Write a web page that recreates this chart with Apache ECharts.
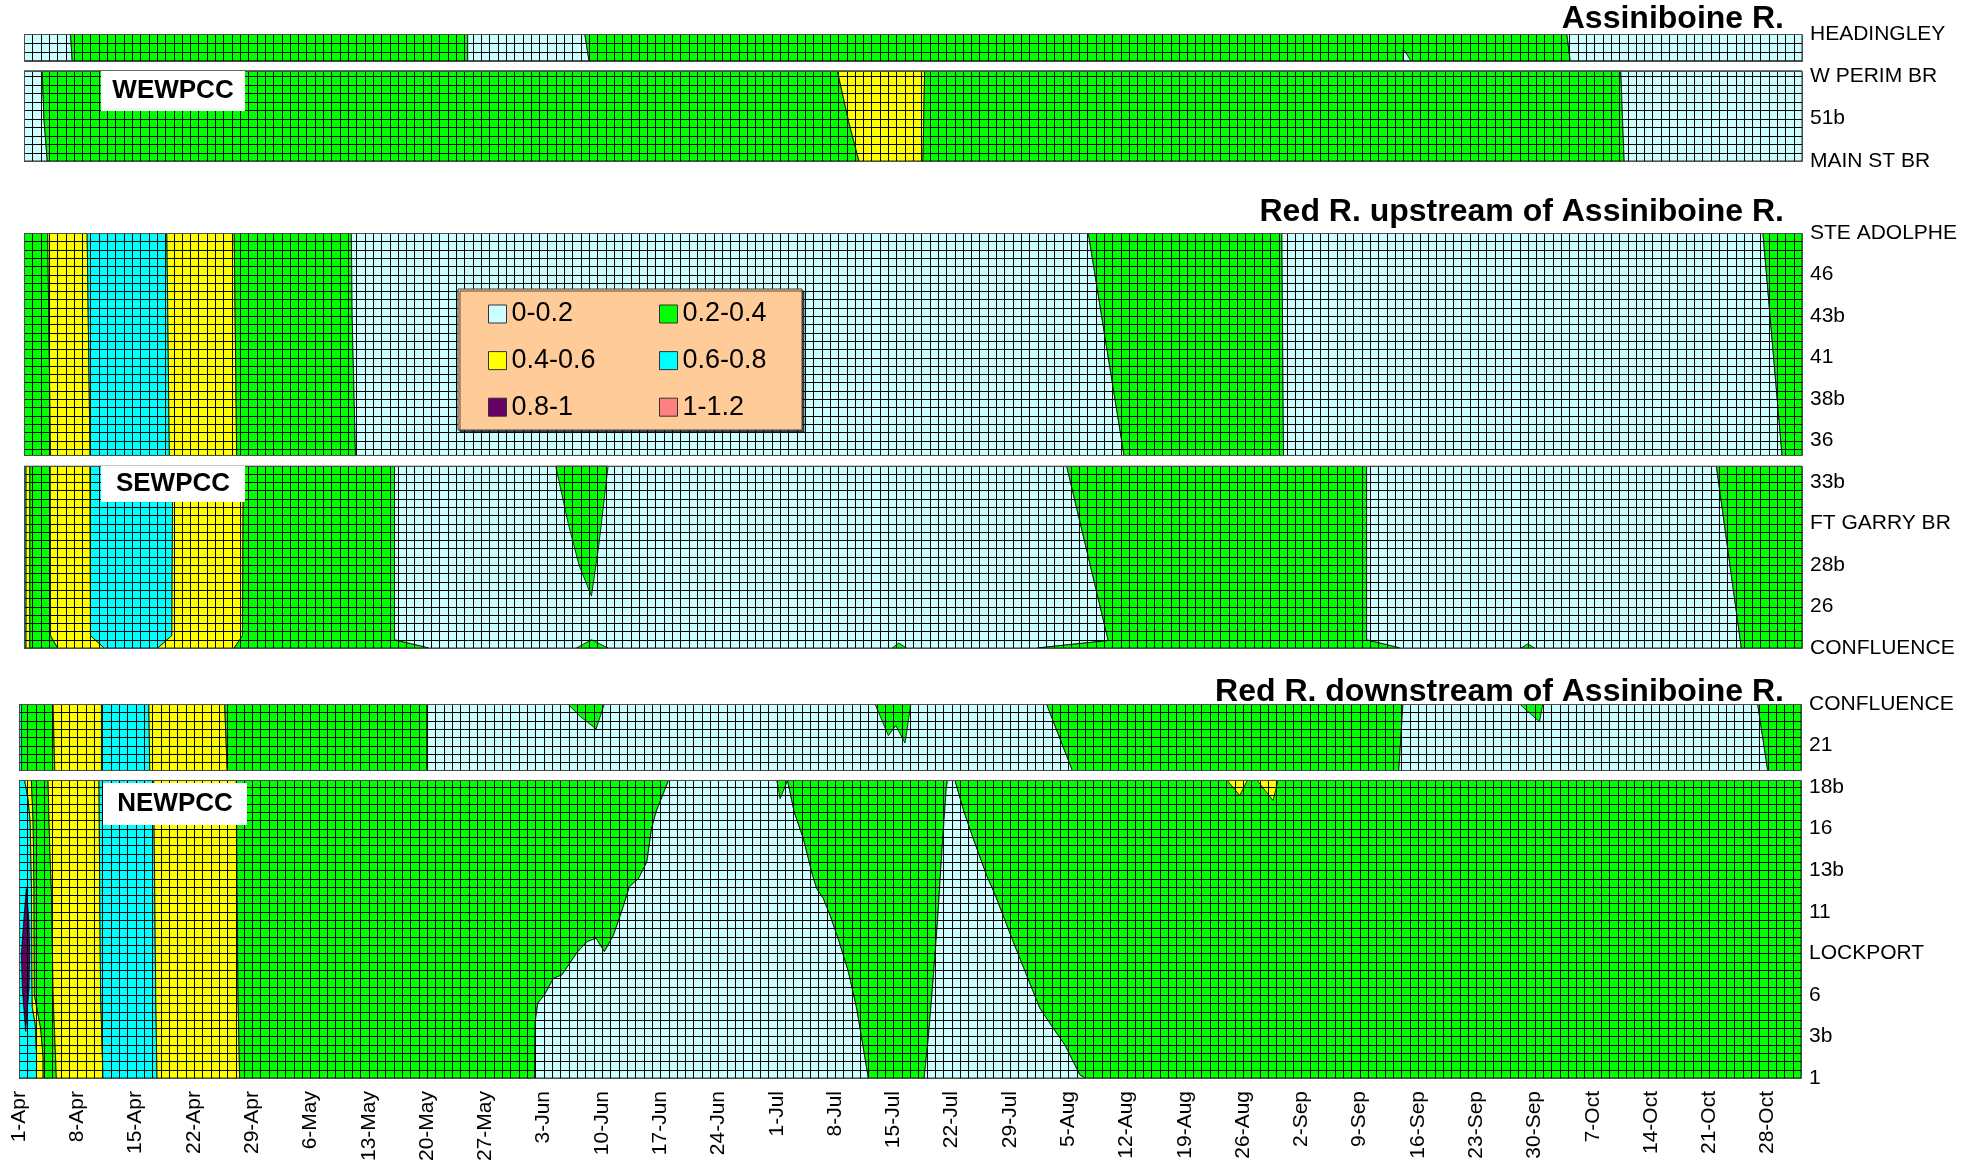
<!DOCTYPE html>
<html>
<head>
<meta charset="utf-8">
<script src="https://cdn.jsdelivr.net/npm/echarts@6/dist/echarts.min.js"></script>
<style>
  html, body { margin: 0; padding: 0; background: #fff; }
  #chart { width: 1980px; height: 1172px; }
</style>
</head>
<body>
<div id="chart"></div>
<script>
// ---- concentration classes ----
const bandNames  = ['0-0.2', '0.2-0.4', '0.4-0.6', '0.6-0.8', '0.8-1', '1-1.2'];
const bandColors = ['#CCFFFF', '#00FF00', '#FFFF00', '#00FFFF', '#660066', '#FF8080'];
const LC = 0, GR = 1, YE = 2, CY = 3, PU = 4;

// ---- stations along each reach (top to bottom) ----
const assiniboineStations = ['HEADINGLEY', 'W PERIM BR', '51b', 'MAIN ST BR'];
const redUpperStations = ['STE ADOLPHE', '46', '43b', '41', '38b', '36', '33b', 'FT GARRY BR', '28b', '26', 'CONFLUENCE'];
const redLowerStations = ['CONFLUENCE', '21', '18b', '16', '13b', '11', 'LOCKPORT', '6', '3b', '1'];

// ---- time axis: days since 1 April ----
const lastDay = 214;
const labelDays = [0, 7, 14, 21, 28, 35, 42, 49, 56, 63, 70, 77, 84, 91, 98, 105, 112, 119, 126,
                   133, 140, 147, 154, 161, 168, 175, 182, 189, 196, 203, 210];
const monthAbbr = ['Jan', 'Feb', 'Mar', 'Apr', 'May', 'Jun', 'Jul', 'Aug', 'Sep', 'Oct', 'Nov', 'Dec'];

// ---- station extents of each contour strip [top, bottom] and sampling row step ----
const headingleyRows = [0, 0.63, 0.21];
const wewpccRows     = [0.87, 3, 0.2];
const redUpperRows   = [0, 5.36, 0.2];
const sewpccRows     = [5.62, 10, 0.2];
const confluenceRows = [0, 1.6, 0.2];
const newpccRows     = [1.84, 9, 0.2];

// ---- class boundaries: [day, station] from top of strip to bottom ----
// Assiniboine at Headingley
const hdB1 = [[5.6, 0], [5.8, 0.63]];
const hdB2 = [[53.4, 0], [53.4, 0.63]];
const hdB3 = [[67.5, 0], [68.0, 0.63]];
const hdB4 = [[185.7, 0], [186.1, 0.63]];
const hdNotch = [[166.0, 0.35], [166.0, 0.63], [166.9, 0.63], [166.5, 0.5]];

// Assiniboine below WEWPCC
const wpB1 = [[2.2, 0.87], [2.4, 2], [2.8, 3]];
const wpB2 = [[97.9, 0.87], [99.3, 2.1], [100.5, 3]];
const wpB3 = [[108.4, 0.87], [108.2, 3]];
const wpB4 = [[192.2, 0.87], [192.4, 2], [192.6, 3]];

// Red R. from Ste Adolphe to 36
const upB1 = [[2.85, 0], [3.2, 5.36]];
const upB2 = [[7.6, 0], [7.95, 5.36]];
const upB3 = [[17.2, 0], [17.5, 5.36]];
const upB4 = [[25.3, 0], [25.6, 5.36]];
const upB5 = [[39.4, 0], [39.5, 2], [39.9, 5.36]];
const upB6 = [[128.1, 0], [132.4, 5.36]];
const upB7 = [[151.4, 0], [151.6, 5.36]];
const upB8 = [[209.3, 0], [211.6, 5.36]];

// Red R. below SEWPCC to the confluence
const seB1 = [[0.25, 5.62], [0.25, 10]];
const seB2 = [[0.7, 5.62], [0.7, 10]];
const seB3 = [[3.16, 5.62], [3.2, 9.7], [4.05, 10]];
const seB4 = [[7.95, 5.62], [8.0, 9.7], [9.65, 10]];
const seB5 = [[17.9, 5.62], [17.8, 9.7], [16.1, 10]];
const seB6 = [[26.4, 5.62], [26.3, 9.7], [25.3, 10]];
const seB7 = [[44.6, 5.62], [44.6, 9.8], [48.8, 10]];
const seB8 = [[125.5, 5.62], [130.5, 9.82], [122.0, 10]];
const seB9 = [[161.6, 5.62], [161.6, 9.8], [165.7, 10]];
const seB10 = [[203.7, 5.62], [206.7, 10]];
const seTear = [[64.0, 5.62], [65.5, 7.0], [66.8, 8.0], [68.3, 8.75], [69.2, 7.5], [70.3, 5.62]];
const seBump1 = [[66.5, 10], [68.3, 9.8], [70.3, 10]];
const seBump2 = [[104.5, 10], [105.3, 9.88], [106.2, 10]];
const seBump3 = [[180.2, 10], [181.0, 9.9], [181.8, 10]];

// Red R. confluence to 21
const cfB1 = [[0.3, 0], [0.3, 1.6]];
const cfB2 = [[4.1, 0], [4.3, 1.6]];
const cfB3 = [[9.9, 0], [9.9, 1.6]];
const cfB4 = [[15.6, 0], [15.7, 1.6]];
const cfB5 = [[24.7, 0], [25.0, 1.6]];
const cfB6 = [[49.0, 0], [49.0, 1.6]];
const cfB7 = [[123.4, 0], [126.5, 1.6]];
const cfB8 = [[166.2, 0], [165.7, 1.6]];
const cfB9 = [[208.8, 0], [210.0, 1.6]];
const cfDrop1 = [[65.9, 0], [67.4, 0.3], [69.3, 0.6], [70.3, 0]];
const cfDrop2 = [[102.8, 0], [104.4, 0.76], [105.3, 0.52], [106.4, 0.94], [107.1, 0]];
const cfDrop3 = [[180.2, 0], [182.6, 0.43], [183.0, 0]];

// Red R. below NEWPCC to station 1
const nwL1 = [[0.68, 1.84], [1.1, 2.3], [1.35, 2.84], [1.5, 4.44], [1.55, 6.5], [1.6, 7.3], [1.95, 7.7], [2.1, 8.4], [2.1, 9]];
const nwL2 = [[1.49, 1.84], [1.7, 2.84], [1.8, 4.44], [1.85, 7.0], [2.6, 7.8], [2.9, 8.5], [2.9, 9]];
const nwL3 = [[3.49, 1.84], [3.7, 3.5], [3.89, 4.44], [4.1, 7.0], [4.49, 9]];
const nwL4 = [[9.61, 1.84], [9.69, 4.44], [9.8, 7.0], [10.09, 9]];
const nwL5 = [[16.18, 1.84], [16.3, 4.44], [16.42, 7.0], [16.58, 9]];
const nwL6 = [[26.1, 1.84], [26.19, 4.44], [26.3, 7.0], [26.5, 9]];
const nwB1 = [[78.0, 1.84], [76.5, 2.6], [75.97, 3.0], [75.4, 3.8], [74.4, 4.2], [73.3, 4.4], [72.5, 4.92],
              [71.4, 5.56], [70.3, 5.96], [69.3, 5.64], [68.2, 5.72], [67.1, 5.96], [66.0, 6.28], [65.2, 6.52],
              [64.2, 6.6], [63.1, 7.0], [62.3, 7.2], [62.0, 7.64], [61.9, 9]];
const nwB2 = [[92.3, 1.84], [93.1, 2.6], [94.2, 3.24], [95.3, 4.12], [95.8, 4.44], [96.6, 4.68], [97.4, 5.08],
              [98.5, 5.72], [99.6, 6.44], [100.6, 7.32], [101.4, 8.28], [102.0, 9]];
const nwB3 = [[111.5, 1.84], [111.35, 2.04], [110.8, 3.64], [110.3, 5.24], [109.7, 6.84], [109.2, 8.04], [108.7, 9]];
const nwB4 = [[112.4, 1.84], [113.5, 2.6], [114.6, 3.24], [116.2, 4.12], [117.25, 4.6], [119.4, 5.72], [121.0, 6.52],
              [122.6, 7.32], [124.2, 7.8], [125.6, 8.2], [127.4, 8.92], [128.0, 9]];
const nwPeak = [[0.88, 4.44], [0.56, 5.24], [0.28, 6.04], [0.4, 6.84], [0.8, 7.88], [1.2, 6.84], [1.28, 6.04], [1.2, 5.24]];
const nwTooth = [[91.0, 1.84], [91.4, 2.28], [92.3, 1.84]];
const nwDrop1 = [[145.1, 1.84], [146.6, 2.2], [147.5, 1.84]];
const nwDrop2 = [[148.7, 1.84], [150.6, 2.32], [151.2, 1.84]];

// ---- zone builders ----
function edge(day, rows) { return [[day, rows[0]], [day, rows[1]]]; }
function zone(band, left, right) { return { band, poly: left.concat(right.slice().reverse()) }; }
function patch(band, pts) { return { band, poly: pts }; }
function strip(rows, bands, bounds) {
  const lines = [edge(0, rows)].concat(bounds, [edge(lastDay, rows)]);
  return bands.map((b, i) => zone(b, lines[i], lines[i + 1]));
}

const assiniboineZones = [].concat(
  strip(headingleyRows, [LC, GR, LC, GR, LC], [hdB1, hdB2, hdB3, hdB4]),
  [patch(LC, hdNotch)],
  strip(wewpccRows, [LC, GR, YE, GR, LC], [wpB1, wpB2, wpB3, wpB4])
);
const redUpperZones = [].concat(
  strip(redUpperRows, [GR, YE, CY, YE, GR, LC, GR, LC, GR], [upB1, upB2, upB3, upB4, upB5, upB6, upB7, upB8]),
  strip(sewpccRows, [CY, YE, GR, YE, CY, YE, GR, LC, GR, LC, GR], [seB1, seB2, seB3, seB4, seB5, seB6, seB7, seB8, seB9, seB10]),
  [patch(GR, seTear), patch(GR, seBump1), patch(GR, seBump2), patch(GR, seBump3)]
);
const redLowerZones = [].concat(
  strip(confluenceRows, [CY, GR, YE, CY, YE, GR, LC, GR, LC, GR], [cfB1, cfB2, cfB3, cfB4, cfB5, cfB6, cfB7, cfB8, cfB9]),
  [patch(GR, cfDrop1), patch(GR, cfDrop2), patch(GR, cfDrop3)],
  strip(newpccRows, [CY, YE, GR, YE, CY, YE, GR, LC, GR, LC, GR], [nwL1, nwL2, nwL3, nwL4, nwL5, nwL6, nwB1, nwB2, nwB3, nwB4]),
  [patch(PU, nwPeak), patch(GR, nwTooth), patch(YE, nwDrop1), patch(YE, nwDrop2)]
);

const gridZones = [assiniboineZones, redUpperZones, redLowerZones];
const gridRows = [[headingleyRows, wewpccRows], [redUpperRows, sewpccRows], [confluenceRows, newpccRows]];
const gridStations = [assiniboineStations, redUpperStations, redLowerStations];

const FONT = '"Liberation Sans", Arial, Helvetica, sans-serif';

function dayLabel(v) {
  const dt = new Date(Date.UTC(2001, 3, 1 + Math.round(v)));
  return dt.getUTCDate() + '-' + monthAbbr[dt.getUTCMonth()];
}

// filled contour polygons
function zoneRenderer(zones) {
  return function (params, api) {
    const z = zones[api.value(0)];
    return {
      type: 'polygon',
      z2: api.value(1),
      shape: { points: z.poly.map(p => api.coord(p)) },
      style: { fill: bandColors[z.band], stroke: 'rgba(0,0,0,0.8)', lineWidth: 1 }
    };
  };
}

// sampling mesh (one line per day, one per row step) and strip outline
function meshRenderer(params, api) {
  const top = api.value(0), bot = api.value(1), step = api.value(2);
  const p0 = api.coord([0, top]), p1 = api.coord([lastDay, bot]);
  const crisp = v => Math.round(v) + 0.5;
  const kids = [];
  for (let d = 1; d < lastDay; d++) {
    const x = crisp(api.coord([d, top])[0]);
    kids.push({ type: 'line', shape: { x1: x, y1: p0[1], x2: x, y2: p1[1] }, style: { stroke: '#000', lineWidth: 1 } });
  }
  for (let k = Math.floor(top / step + 1e-6) + 1; k * step < bot - 1e-6; k++) {
    const y = crisp(api.coord([0, k * step])[1]);
    kids.push({ type: 'line', shape: { x1: p0[0], y1: y, x2: p1[0], y2: y }, style: { stroke: '#000', lineWidth: 1 } });
  }
  kids.push({
    type: 'rect',
    shape: { x: crisp(p0[0]), y: crisp(p0[1]), width: Math.round(p1[0] - p0[0]), height: Math.round(p1[1] - p0[1]) },
    style: { fill: 'none', stroke: '#4d4d4d', lineWidth: 1 }
  });
  return { type: 'group', children: kids };
}

const grids = [
  { left: 24, top: 34, width: 1778, height: 127 },
  { left: 24, top: 233, width: 1778, height: 415 },
  { left: 19, top: 704, width: 1782, height: 374 }
];

const allDays = [];
for (let d = 0; d <= lastDay; d++) allDays.push(d);

const xAxes = grids.map((g, i) => ({
  gridIndex: i, type: 'value', min: 0, max: lastDay,
  show: i === 2,
  axisLine: { show: false },
  splitLine: { show: false },
  axisTick: { show: true, customValues: allDays, length: 6, lineStyle: { color: '#000', width: 1 } },
  axisLabel: {
    customValues: labelDays, rotate: 90, margin: 13, color: '#000',
    fontSize: 21, fontFamily: FONT, formatter: dayLabel
  }
}));

const yAxes = gridStations.map((names, i) => ({
  gridIndex: i, type: 'value', inverse: true, min: 0, max: names.length - 1, interval: 1,
  position: 'right',
  axisLine: { show: false },
  splitLine: { show: false },
  axisTick: { show: true, length: 6, lineStyle: { color: '#000', width: 1 } },
  axisLabel: {
    margin: 8, color: '#000', fontSize: 21, fontFamily: FONT,
    formatter: v => names[Math.round(v)] || ''
  }
}));

const series = [];
gridZones.forEach((zones, g) => {
  const render = zoneRenderer(zones);
  bandNames.forEach((name, b) => {
    const data = [];
    zones.forEach((z, idx) => { if (z.band === b) data.push([idx, idx]); });
    series.push({
      type: 'custom', name, xAxisIndex: g, yAxisIndex: g,
      itemStyle: { color: bandColors[b] },
      renderItem: render, data, silent: true, z: 2, clip: true
    });
  });
  series.push({
    type: 'custom', name: 'mesh', xAxisIndex: g, yAxisIndex: g,
    renderItem: meshRenderer, data: gridRows[g], silent: true, z: 3
  });
});

function legendData(list) {
  return list.map(n => ({
    name: n,
    itemStyle: { color: bandColors[bandNames.indexOf(n)], borderColor: '#333', borderWidth: 1 }
  }));
}
const legendBase = {
  orient: 'vertical', icon: 'rect', itemWidth: 18, itemHeight: 18, itemGap: 16.6,
  padding: 0, selectedMode: false, z: 20,
  textStyle: { fontSize: 27, lineHeight: 30, color: '#000', fontFamily: FONT }
};

function plateLabel(text, x, y, w, h) {
  return [
    { type: 'rect', z: 10, shape: { x, y, width: w, height: h }, style: { fill: '#fff' } },
    { type: 'text', z: 11, style: {
        text, x: x + w / 2, y: y + h / 2, align: 'center', verticalAlign: 'middle',
        textAlign: 'center', textVerticalAlign: 'middle',
        font: 'bold 26px ' + FONT, fill: '#000' } }
  ];
}
function heading(text, y) {
  return { type: 'text', z: 10, style: {
    text, x: 1784, y, align: 'right', verticalAlign: 'middle',
    textAlign: 'right', textVerticalAlign: 'middle',
    font: 'bold 32px ' + FONT, fill: '#000' } };
}

const option = {
  animation: false,
  backgroundColor: '#fff',
  grid: grids,
  xAxis: xAxes,
  yAxis: yAxes,
  legend: [
    Object.assign({}, legendBase, { left: 488, top: 299, data: legendData(['0-0.2', '0.4-0.6', '0.8-1']) }),
    Object.assign({}, legendBase, { left: 659, top: 299, data: legendData(['0.2-0.4', '0.6-0.8', '1-1.2']) })
  ],
  graphic: {
    elements: [].concat(
      [heading('Assiniboine R.', 19),
       heading('Red R. upstream of Assiniboine R.', 212),
       heading('Red R. downstream of Assiniboine R.', 692)],
      plateLabel('WEWPCC', 101, 71, 144, 40),
      plateLabel('SEWPCC', 101, 466, 144, 36),
      plateLabel('NEWPCC', 103, 783, 144, 42),
      [{ type: 'rect', z: 15, shape: { x: 458, y: 289, width: 344, height: 141 },
         style: { fill: '#FFCC99', stroke: '#404040', lineWidth: 1,
                  shadowColor: 'rgba(0,0,0,0.65)', shadowOffsetX: 2, shadowOffsetY: 2, shadowBlur: 0 } }]
    )
  },
  series
};

const chart = echarts.init(document.getElementById('chart'));
chart.setOption(option);
</script>
</body>
</html>
